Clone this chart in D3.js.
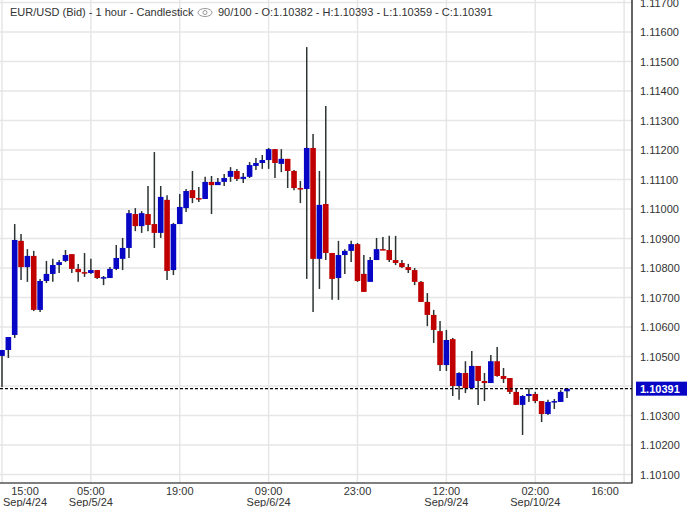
<!DOCTYPE html>
<html>
<head>
<meta charset="utf-8">
<script src="https://cdn.jsdelivr.net/npm/d3@7"></script>
<style>
body{margin:0;background:#fff;font-family:"Liberation Sans",Arial,sans-serif;}
</style>
</head>
<body>
<svg id="chart" width="689" height="507"></svg>
<script>
// hourly EUR/USD candles, Sep 4 15:00 onwards (weekend hours skipped)
const opens=[1.10502,1.10522,1.10573,1.10892,1.10803,1.10841,1.10658,1.10756,1.10780,1.10810,
1.10824,1.10847,1.10797,1.10786,1.10783,1.10793,1.10766,1.10766,1.10797,1.10831,
1.10868,1.10983,1.10942,1.10983,1.10949,1.10919,1.11031,1.10793,1.10949,1.11003,
1.11064,1.11037,1.11034,1.11092,1.11081,1.11092,1.11109,1.11129,1.11102,1.11109,
1.11146,1.11156,1.11166,1.11203,1.11153,1.11170,1.11129,1.11071,1.11068,1.11207,
1.10831,1.11017,1.10851,1.10766,1.10844,1.10858,1.10881,1.10780,1.10753,1.10827,
1.10864,1.10861,1.10827,1.10817,1.10803,1.10793,1.10753,1.10685,1.10641,1.10586,
1.10471,1.10559,1.10400,1.10444,1.10393,1.10468,1.10417,1.10410,1.10484,1.10434,
1.10427,1.10380,1.10336,1.10366,1.10373,1.10349,1.10305,1.10346,1.10346,1.10382];
const highs=[1.10522,1.10566,1.10949,1.10915,1.10864,1.10858,1.10763,1.10824,1.10831,1.10827,
1.10861,1.10847,1.10814,1.10851,1.10831,1.10793,1.10773,1.10803,1.10878,1.10902,
1.10997,1.11003,1.10993,1.11078,1.11193,1.11078,1.11047,1.10953,1.11051,1.11068,
1.11129,1.11075,1.11109,1.11112,1.11105,1.11119,1.11142,1.11136,1.11122,1.11159,
1.11173,1.11183,1.11207,1.11203,1.11203,1.11170,1.11132,1.11095,1.11549,1.11254,
1.11129,1.11349,1.10851,1.10892,1.10864,1.10892,1.10885,1.10844,1.10837,1.10902,
1.10905,1.10909,1.10909,1.10827,1.10814,1.10800,1.10756,1.10715,1.10658,1.10620,
1.10590,1.10563,1.10447,1.10484,1.10519,1.10468,1.10444,1.10505,1.10532,1.10461,
1.10427,1.10390,1.10369,1.10393,1.10380,1.10349,1.10353,1.10356,1.10386,1.10393];
const lows=[1.10397,1.10495,1.10563,1.10759,1.10753,1.10654,1.10651,1.10749,1.10753,1.10783,
1.10820,1.10783,1.10753,1.10770,1.10780,1.10763,1.10742,1.10766,1.10793,1.10793,
1.10834,1.10925,1.10919,1.10925,1.10868,1.10902,1.10759,1.10776,1.10949,1.10990,
1.11020,1.11024,1.11034,1.10983,1.11081,1.11078,1.11092,1.11095,1.11088,1.11105,
1.11132,1.11136,1.11136,1.11105,1.11125,1.11071,1.11064,1.11020,1.10763,1.10651,
1.10729,1.10827,1.10692,1.10692,1.10780,1.10820,1.10753,1.10719,1.10753,1.10827,
1.10861,1.10820,1.10810,1.10800,1.10783,1.10742,1.10685,1.10603,1.10546,1.10451,
1.10451,1.10366,1.10353,1.10376,1.10390,1.10336,1.10349,1.10410,1.10431,1.10410,
1.10373,1.10336,1.10234,1.10346,1.10342,1.10278,1.10302,1.10322,1.10346,1.10359];
const closes=[1.10522,1.10566,1.10895,1.10803,1.10841,1.10658,1.10756,1.10780,1.10810,1.10820,
1.10844,1.10797,1.10786,1.10785,1.10793,1.10766,1.10769,1.10797,1.10834,1.10868,
1.10986,1.10942,1.10986,1.10946,1.10919,1.11041,1.10790,1.10949,1.11007,1.11061,
1.11037,1.11034,1.11092,1.11081,1.11092,1.11105,1.11129,1.11102,1.11109,1.11149,
1.11156,1.11166,1.11203,1.11156,1.11170,1.11129,1.11071,1.11068,1.11207,1.10831,
1.11014,1.10851,1.10763,1.10844,1.10858,1.10881,1.10756,1.10719,1.10827,1.10864,
1.10861,1.10827,1.10817,1.10803,1.10793,1.10753,1.10685,1.10641,1.10590,1.10471,
1.10556,1.10400,1.10444,1.10393,1.10468,1.10417,1.10410,1.10484,1.10434,1.10424,
1.10380,1.10336,1.10366,1.10373,1.10349,1.10305,1.10346,1.10349,1.10380,1.10391];
const priceTicks=[1.101,1.102,1.103,1.104,1.105,1.106,1.107,1.108,1.109,1.110,1.111,1.112,1.113,1.114,1.115,1.116,1.117];
const timeTickIdx=[0,14,28,42,56,70,84,98];
const timeTickTop=["15:00","05:00","19:00","09:00","23:00","12:00","02:00","16:00"];
const timeTickBottom=["Sep/4/24","Sep/5/24","","Sep/6/24","","Sep/9/24","Sep/10/24",""];
const lastClose=1.10391;

const svg=d3.select("#chart");
const plotW=632, plotH=483;
const x=d3.scaleLinear().domain([0,89]).range([2,567]);
const y=d3.scaleLinear().domain([1.100712,1.117085]).range([plotH,0]);

// grid
svg.append("g").selectAll("line").data(priceTicks).enter().append("line")
  .attr("x1",0).attr("x2",plotW).attr("y1",d=>y(d)).attr("y2",d=>y(d))
  .attr("stroke","#e6e6e6").attr("stroke-width",1.5);
svg.append("g").selectAll("line").data(timeTickIdx).enter().append("line")
  .attr("x1",d=>x(d)).attr("x2",d=>x(d)).attr("y1",0).attr("y2",plotH)
  .attr("stroke","#e6e6e6").attr("stroke-width",1.5);

// candles
const idx=d3.range(opens.length);
const g=svg.append("g");
g.selectAll(".wick").data(idx).enter().append("line")
  .attr("x1",i=>x(i)).attr("x2",i=>x(i))
  .attr("y1",i=>y(highs[i])).attr("y2",i=>y(lows[i]))
  .attr("stroke","#2b3333").attr("stroke-width",1.5);
g.selectAll(".body").data(idx).enter().append("rect")
  .attr("x",i=>x(i)-2.8).attr("width",5.6)
  .attr("y",i=>y(Math.max(opens[i],closes[i])))
  .attr("height",i=>Math.max(1.5,Math.abs(y(opens[i])-y(closes[i]))))
  .attr("fill",i=>closes[i]>=opens[i]?"#0606c4":"#c00000");

// last price line
svg.append("line").attr("x1",0).attr("x2",plotW).attr("y1",y(lastClose)).attr("y2",y(lastClose))
  .attr("stroke","#000").attr("stroke-width",1.2).attr("stroke-dasharray","3,2");

// frame
svg.append("path").attr("d",`M${plotW},0V${plotH}H0`).attr("fill","none").attr("stroke","#000").attr("stroke-width",1.2);

// y labels (the one hidden behind the last-price box is skipped)
svg.append("g").selectAll("text")
  .data(priceTicks.filter(d=>Math.abs(y(d)-y(lastClose))>12)).enter().append("text")
  .attr("x",640).attr("y",d=>y(d)+4).attr("font-size",11).attr("fill","#333")
  .text(d=>d.toFixed(5));
svg.append("rect").attr("x",636).attr("y",y(lastClose)-7).attr("width",51).attr("height",14).attr("fill","#0606c4");
svg.append("text").attr("x",640).attr("y",y(lastClose)+4).attr("font-size",11).attr("font-weight","bold")
  .attr("fill","#fff").text(lastClose.toFixed(5));

// x labels
const tx=i=>Math.min(605,Math.max(25,x(i)));
svg.append("g").selectAll("text").data(timeTickIdx).enter().append("text")
  .attr("x",tx).attr("y",495).attr("text-anchor","middle").attr("font-size",11).attr("fill","#333")
  .text((d,k)=>timeTickTop[k]);
svg.append("g").selectAll("text").data(timeTickIdx).enter().append("text")
  .attr("x",tx).attr("y",506).attr("text-anchor","middle").attr("font-size",11).attr("fill","#333")
  .text((d,k)=>timeTickBottom[k]);

// header
svg.append("text").attr("x",10).attr("y",16).attr("font-size",11).attr("fill","#333")
  .text("EUR/USD (Bid) - 1 hour - Candlestick");
svg.append("ellipse").attr("cx",205).attr("cy",12.5).attr("rx",7).attr("ry",4).attr("fill","none").attr("stroke","#999");
svg.append("circle").attr("cx",205).attr("cy",12.5).attr("r",2).attr("fill","none").attr("stroke","#999");
svg.append("text").attr("x",218).attr("y",16).attr("font-size",11).attr("fill","#333")
  .text("90/100 - O:1.10382 - H:1.10393 - L:1.10359 - C:1.10391");
</script>
</body>
</html>
